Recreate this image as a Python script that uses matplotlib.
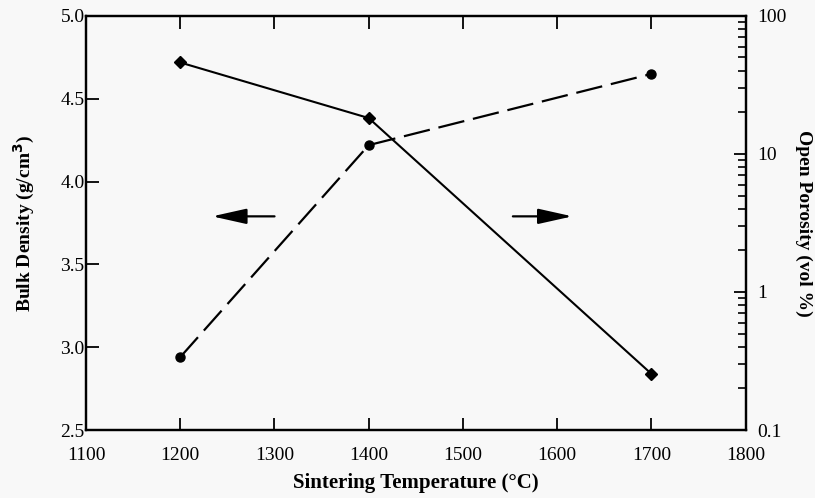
import numpy as np
import matplotlib.pyplot as plt
from matplotlib.ticker import LogLocator, NullFormatter, FixedLocator

plt.rcParams['font.family'] = ['Liberation Serif', 'DejaVu Serif']

# datos
temperatura = [1200, 1400, 1700]
densidad = [2.94, 4.22, 4.65]          # g/cm3, eje izquierdo (linea discontinua)
porosidad = [46.0, 18.2, 0.255]        # vol %, eje derecho log (linea continua)

x_ticks = [1100, 1200, 1300, 1400, 1500, 1600, 1700, 1800]
y_ticks = [2.5, 3.0, 3.5, 4.0, 4.5, 5.0]
y2_ticks = [0.1, 1, 10, 100]
y2_labels = ['0.1', '1', '10', '100']

fondo = '#f8f8f8'
fig = plt.figure(figsize=(8.15, 4.98), dpi=100, facecolor=fondo)
ax = fig.add_axes([0.1055, 0.1365, 0.8095, 0.8315], facecolor=fondo)
ax2 = ax.twinx()

# densidad: discontinua con circulos
ax.plot(temperatura, densidad, color='black', lw=1.6, dashes=(12, 4),
        marker='o', ms=6.5, mfc='black', mec='black', zorder=3)
# porosidad: continua con rombos
ax2.plot(temperatura, porosidad, color='black', lw=1.5,
         marker='D', ms=6, mfc='black', mec='black', zorder=3)

ax.set_xlim(1100, 1800)
ax.set_ylim(2.5, 5.0)
ax2.set_yscale('log')
ax2.set_ylim(0.1, 100)

ax.xaxis.set_major_locator(FixedLocator(x_ticks))
ax.set_yticks(y_ticks)
ax.set_yticklabels([f'{v:.1f}' for v in y_ticks])
ax2.set_yticks(y2_ticks)
ax2.set_yticklabels(y2_labels)
ax2.yaxis.set_minor_locator(LogLocator(base=10, subs=np.arange(2, 10)))
ax2.yaxis.set_minor_formatter(NullFormatter())

ax.tick_params(axis='x', direction='in', length=9, width=1.3, top=True,
               labelsize=14, pad=12)
ax.tick_params(axis='y', direction='in', length=9, width=1.3, labelsize=14, pad=1)
ax2.tick_params(axis='y', which='major', direction='in', length=9, width=1.3,
                labelsize=14, pad=8)
ax2.tick_params(axis='y', which='minor', direction='in', length=6, width=1.2)

for sp in list(ax.spines.values()) + list(ax2.spines.values()):
    sp.set_linewidth(1.6)

ax.set_xlabel('Sintering Temperature (°C)', fontsize=15, fontweight='bold', labelpad=7)
ax.set_ylabel('Bulk Density (g/cm$^{\\mathbf{3}}$)', fontsize=14, fontweight='bold', labelpad=17)
ax2.set_ylabel('Open Porosity (vol %)', fontsize=14, fontweight='bold',
               rotation=270, labelpad=19)

# flechas indicando el eje de cada curva
flecha = dict(arrowstyle='-|>,head_length=2.1,head_width=0.47', color='black', lw=1.6)
ax.annotate('', xy=(1231, 3.79), xytext=(1303, 3.79), arrowprops=flecha)
ax.annotate('', xy=(1619, 3.79), xytext=(1550, 3.79), arrowprops=flecha)

fig.savefig('out.png', dpi=100, facecolor=fondo)
